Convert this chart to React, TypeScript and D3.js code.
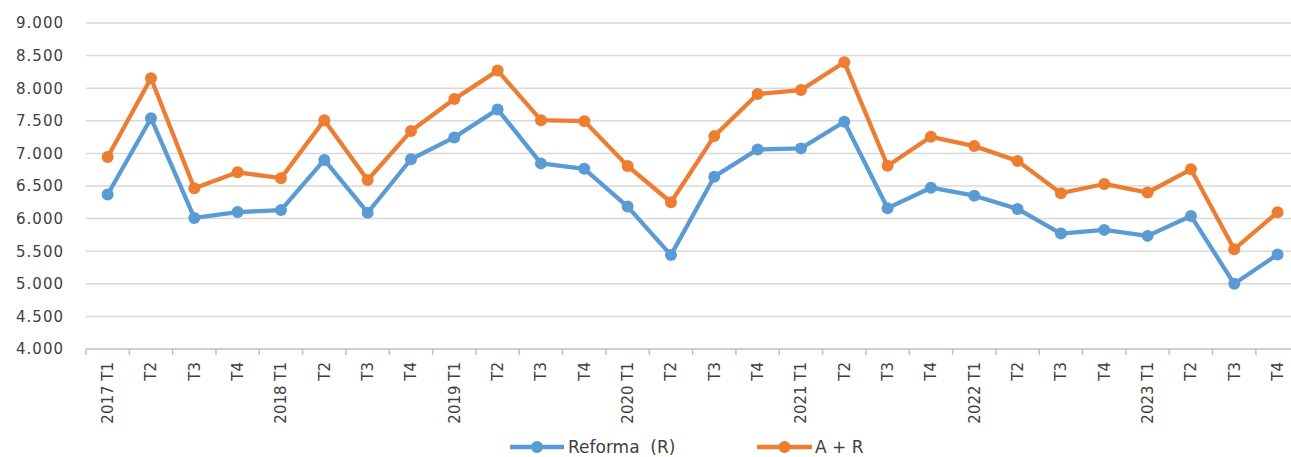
import React from "react";
import * as d3 from "d3";

const categories = [
  "2017 T1", "T2", "T3", "T4",
  "2018 T1", "T2", "T3", "T4",
  "2019 T1", "T2", "T3", "T4",
  "2020 T1", "T2", "T3", "T4",
  "2021 T1", "T2", "T3", "T4",
  "2022 T1", "T2", "T3", "T4",
  "2023 T1", "T2", "T3", "T4",
];

const reforma = [
  6370, 7540, 6010, 6100,
  6130, 6900, 6090, 6910,
  7245, 7675, 6847, 6764,
  6184, 5440, 6643, 7061,
  7077, 7485, 6160, 6474,
  6351, 6149, 5771, 5827,
  5735, 6041, 5000, 5450,
];

const aMasR = [
  6945, 8153, 6465, 6710,
  6620, 7510, 6592, 7342,
  7833, 8270, 7510, 7495,
  6807, 6251, 7265, 7910,
  7971, 8399, 6811, 7255,
  7112, 6885, 6390, 6531,
  6400, 6756, 5531, 6098,
];

const yTicks = [4000, 4500, 5000, 5500, 6000, 6500, 7000, 7500, 8000, 8500, 9000];

const seriesNames = ["Reforma  (R)", "A + R"];
const colors = ["#5B9BD5", "#ED7D31"];

const W = 1291;
const H = 457;
const FONT = "'DejaVu Sans', sans-serif";

export default function App() {
  const x = d3
    .scaleBand<number>()
    .domain(categories.map((_, i) => i))
    .range([86, 86 + 28 * 43.33])
    .paddingInner(0)
    .paddingOuter(0);
  const y = d3.scaleLinear().domain([4000, 9000]).range([349, 23]);
  const cx = (i: number) => (x(i) as number) + x.bandwidth() / 2;

  const line = d3
    .line<number>()
    .x((_, i) => cx(i))
    .y((d) => y(d));

  const fmt = (v: number) => d3.format(",")(v).replace(/,/g, ".");

  const series = [reforma, aMasR];

  return (
    <svg
      width={W}
      height={H}
      style={{ position: "absolute", left: 0, top: 0, background: "#fff" }}
    >
      {/* gridlines */}
      {yTicks.slice(1).map((t) => (
        <line
          key={t}
          x1={86}
          x2={W}
          y1={y(t)}
          y2={y(t)}
          stroke="#D9D9D9"
          strokeWidth={1.5}
        />
      ))}
      {/* y labels */}
      {yTicks.map((t) => (
        <text
          key={"l" + t}
          x={64}
          y={y(t)}
          dy="0.36em"
          textAnchor="end"
          fontFamily={FONT}
          fontSize={15}
          letterSpacing={1}
          fill="#404040"
        >
          {fmt(t)}
        </text>
      ))}
      {/* x axis */}
      <line x1={86} x2={W} y1={349} y2={349} stroke="#BFBFBF" strokeWidth={1.5} />
      {d3.range(29).map((i) => {
        const tx = 86 + i * x.bandwidth();
        return (
          <line
            key={"t" + i}
            x1={tx}
            x2={tx}
            y1={349}
            y2={355}
            stroke="#BFBFBF"
            strokeWidth={1.5}
          />
        );
      })}
      {categories.map((c, i) => (
        <text
          key={"c" + i}
          transform={`translate(${cx(i)},362) rotate(-90)`}
          textAnchor="end"
          dy="0.36em"
          fontFamily={FONT}
          fontSize={15}
          fill="#404040"
        >
          {c}
        </text>
      ))}
      {/* series */}
      {series.map((s, si) => (
        <g key={"s" + si}>
          <path
            d={line(s) as string}
            fill="none"
            stroke={colors[si]}
            strokeWidth={4.3}
            strokeLinejoin="round"
          />
          {s.map((v, i) => (
            <circle key={i} cx={cx(i)} cy={y(v)} r={6} fill={colors[si]} />
          ))}
        </g>
      ))}
      {/* legend */}
      {[
        { x0: 510, x1: 564, tx: 568 },
        { x0: 757, x1: 812, tx: 815 },
      ].map((l, i) => (
        <g key={"lg" + i}>
          <line
            x1={l.x0}
            x2={l.x1}
            y1={447}
            y2={447}
            stroke={colors[i]}
            strokeWidth={4.3}
          />
          <circle cx={(l.x0 + l.x1) / 2} cy={447} r={6} fill={colors[i]} />
          <text
            x={l.tx}
            y={447}
            dy="0.36em"
            fontFamily={FONT}
            fontSize={17}
            fill="#404040"
            style={{ whiteSpace: "pre" }}
          >
            {seriesNames[i]}
          </text>
        </g>
      ))}
    </svg>
  );
}
